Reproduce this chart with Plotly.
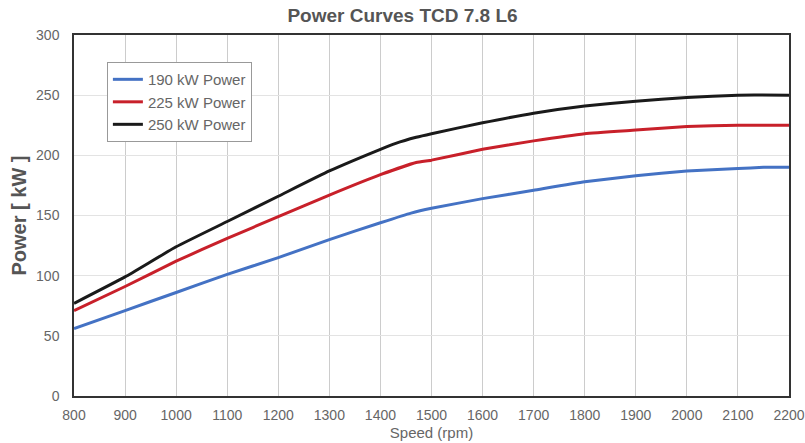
import plotly.graph_objects as go

speed_190 = [800, 900, 1000, 1100, 1200, 1300, 1400, 1460, 1500, 1600, 1700, 1800, 1900, 2000, 2100, 2150, 2200]
power_190 = [56, 71, 86, 101, 115, 130, 144, 152, 156, 164, 171, 178, 183, 187, 189, 190, 190]

speed_225 = [800, 900, 1000, 1100, 1200, 1300, 1400, 1470, 1500, 1600, 1700, 1800, 1900, 2000, 2100, 2200]
power_225 = [71, 91, 112, 131, 149, 167, 184, 194, 196, 205, 212, 218, 221, 224, 225, 225]

speed_250 = [800, 900, 1000, 1100, 1200, 1300, 1400, 1430, 1470, 1500, 1600, 1700, 1800, 1900, 2000, 2100, 2200]
power_250 = [77, 99, 124, 145, 166, 187, 205, 210, 215, 218, 227, 235, 241, 245, 248, 250, 250]

series = [
    ("190 kW Power", speed_190, power_190, "#4472C4"),
    ("225 kW Power", speed_225, power_225, "#C8202A"),
    ("250 kW Power", speed_250, power_250, "#1A1A1A"),
]

x_ticks = list(range(800, 2201, 100))
y_ticks = list(range(0, 301, 50))

fig = go.Figure()
for name, xs, ys, color in series:
    fig.add_trace(go.Scatter(x=xs, y=ys, mode="lines", name=name,
                             line=dict(color=color, width=3, shape="spline", smoothing=0.4)))

font = "Liberation Sans, Arial, sans-serif"
fig.update_layout(
    width=805, height=443,
    margin=dict(l=74, r=16, t=35, b=47, autoexpand=False),
    paper_bgcolor="white", plot_bgcolor="white",
    font=dict(family=font, color="#666666", size=14),
    title=dict(text="<b>Power Curves TCD 7.8 L6</b>", x=0.5, xanchor="center",
               y=0.98, yanchor="top", automargin=False,
               font=dict(size=19, color="#555555", family=font)),
    legend=dict(x=0.046, y=0.925, xanchor="left", yanchor="top",
                bordercolor="#999999", borderwidth=1, bgcolor="white",
                font=dict(size=15, color="#666666"), tracegroupgap=0,
                itemwidth=30),
    showlegend=True,
)
fig.update_xaxes(range=[800, 2200], tickvals=x_ticks, ticktext=[str(v) for v in x_ticks],
                 showgrid=True, gridcolor="#cccccc", gridwidth=1, automargin=False,
                 showline=True, linecolor="#333333", linewidth=1.5, mirror=True,
                 ticks="", ticklabelstandoff=5,
                 title=dict(text="Speed (rpm)", font=dict(size=15, color="#666666"), standoff=6),
                 zeroline=False)
fig.update_yaxes(range=[0, 300], tickvals=y_ticks,
                 showgrid=True, gridcolor="#e3e3e3", gridwidth=1, automargin=False,
                 showline=True, linecolor="#333333", linewidth=1.5, mirror=True,
                 ticks="", ticklabelstandoff=10,
                 title=dict(text="<b>Power [ kW ]</b>", font=dict(size=20, color="#555555"), standoff=4),
                 zeroline=False)

fig.write_html("out.html", config={"displayModeBar": False},
               post_script="document.body.style.margin='0';document.body.style.padding='0';window.dispatchEvent(new Event('resize'));")
